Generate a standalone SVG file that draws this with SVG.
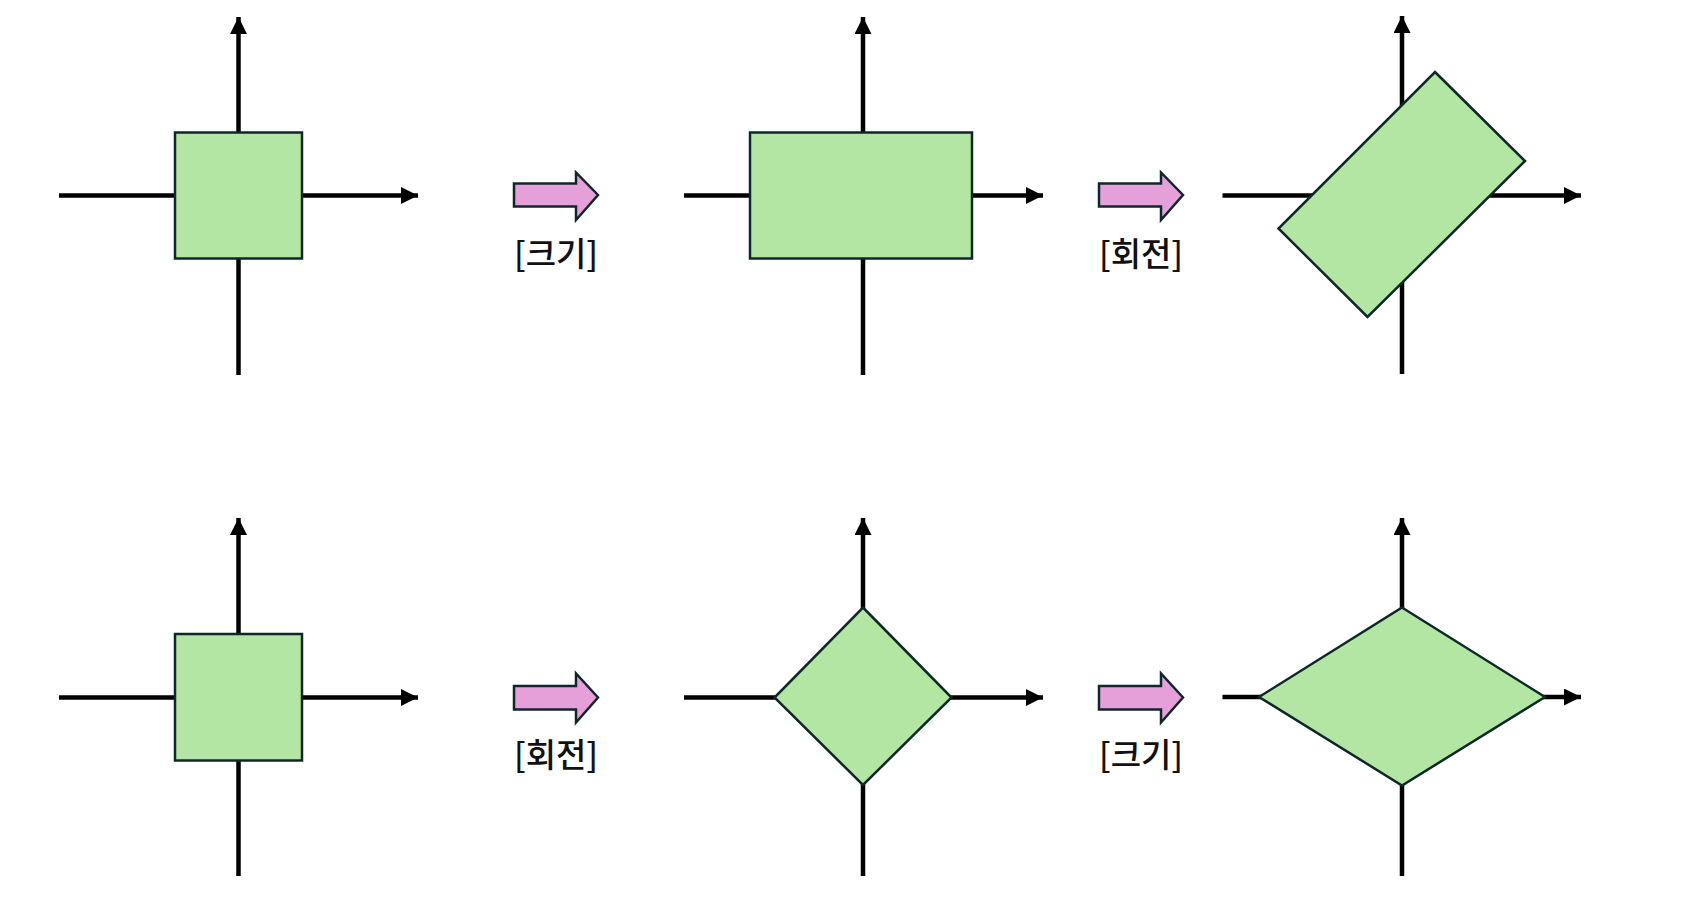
<svg xmlns="http://www.w3.org/2000/svg" width="1683" height="913" viewBox="0 0 1683 913">
<style>
.axis{stroke:#000;stroke-width:4.5;fill:none}
.shape{fill:#b3e6a2;stroke:#10272a;stroke-width:2.5}
.barrow{fill:#e5a0da;stroke:#10272a;stroke-width:2.5;stroke-linejoin:miter}
.lbl{font-family:"Noto Sans CJK KR","Noto Sans",sans-serif;font-size:33px;font-weight:500;fill:#111;text-anchor:middle}
</style>
<defs>
<marker id="ah" markerUnits="userSpaceOnUse" markerWidth="17" markerHeight="17" viewBox="0 0 17 17" refX="17" refY="8.5" orient="auto">
<path d="M0,0 L17,8.5 L0,17 Z" fill="#000"/>
</marker>
</defs>
<rect width="1683" height="913" fill="#fff"/>
<g id="connectors">
<line class="axis" x1="59" y1="195.5" x2="418" y2="195.5" marker-end="url(#ah)"/>
<line class="axis" x1="238.5" y1="375" x2="238.5" y2="17" marker-end="url(#ah)"/>
<line class="axis" x1="684" y1="195.5" x2="1043" y2="195.5" marker-end="url(#ah)"/>
<line class="axis" x1="863" y1="375" x2="863" y2="17" marker-end="url(#ah)"/>
<line class="axis" x1="1222.5" y1="195.5" x2="1581" y2="195.5" marker-end="url(#ah)"/>
<line class="axis" x1="1402" y1="374" x2="1402" y2="16" marker-end="url(#ah)"/>
<line class="axis" x1="59" y1="697.5" x2="418" y2="697.5" marker-end="url(#ah)"/>
<line class="axis" x1="238.5" y1="876" x2="238.5" y2="518" marker-end="url(#ah)"/>
<line class="axis" x1="684" y1="697.5" x2="1043" y2="697.5" marker-end="url(#ah)"/>
<line class="axis" x1="863" y1="876" x2="863" y2="518" marker-end="url(#ah)"/>
<line class="axis" x1="1222.5" y1="697" x2="1581" y2="697" marker-end="url(#ah)"/>
<line class="axis" x1="1402" y1="876" x2="1402" y2="518" marker-end="url(#ah)"/>
</g>
<g id="square-top">
<rect class="shape" x="175" y="132.5" width="127" height="126"/>
</g>
<g id="scaled-rect-top">
<rect class="shape" x="750" y="132.5" width="222" height="126"/>
</g>
<g id="rotated-rect-top">
<polygon class="shape" points="1435,72 1525,161 1367.5,317 1278.5,228.5"/>
</g>
<g id="square-bottom">
<rect class="shape" x="175" y="634" width="127" height="126.5"/>
</g>
<g id="diamond-bottom">
<polygon class="shape" points="863,607.5 951.5,697.5 863,785 774.5,697.5"/>
</g>
<g id="rhombus-bottom">
<polygon class="shape" points="1402,607.5 1545,697 1402,785.5 1259,697"/>
</g>
<g id="step-scale-top">
<polygon class="barrow" points="514,183.5 576,183.5 576,172.5 598,195 576,220 576,206.5 514,206.5"/>
<text class="lbl" x="556" y="266">[크기]</text>
</g>
<g id="step-rotate-top">
<polygon class="barrow" points="1099,183.5 1161,183.5 1161,172.5 1183,195 1161,220 1161,206.5 1099,206.5"/>
<text class="lbl" x="1141" y="266">[회전]</text>
</g>
<g id="step-rotate-bottom">
<polygon class="barrow" points="514,686 576,686 576,673.5 598,697.5 576,722.5 576,709.5 514,709.5"/>
<text class="lbl" x="556" y="767">[회전]</text>
</g>
<g id="step-scale-bottom">
<polygon class="barrow" points="1099,686 1161,686 1161,673.5 1183,697.5 1161,722.5 1161,709.5 1099,709.5"/>
<text class="lbl" x="1141" y="767">[크기]</text>
</g>
</svg>
